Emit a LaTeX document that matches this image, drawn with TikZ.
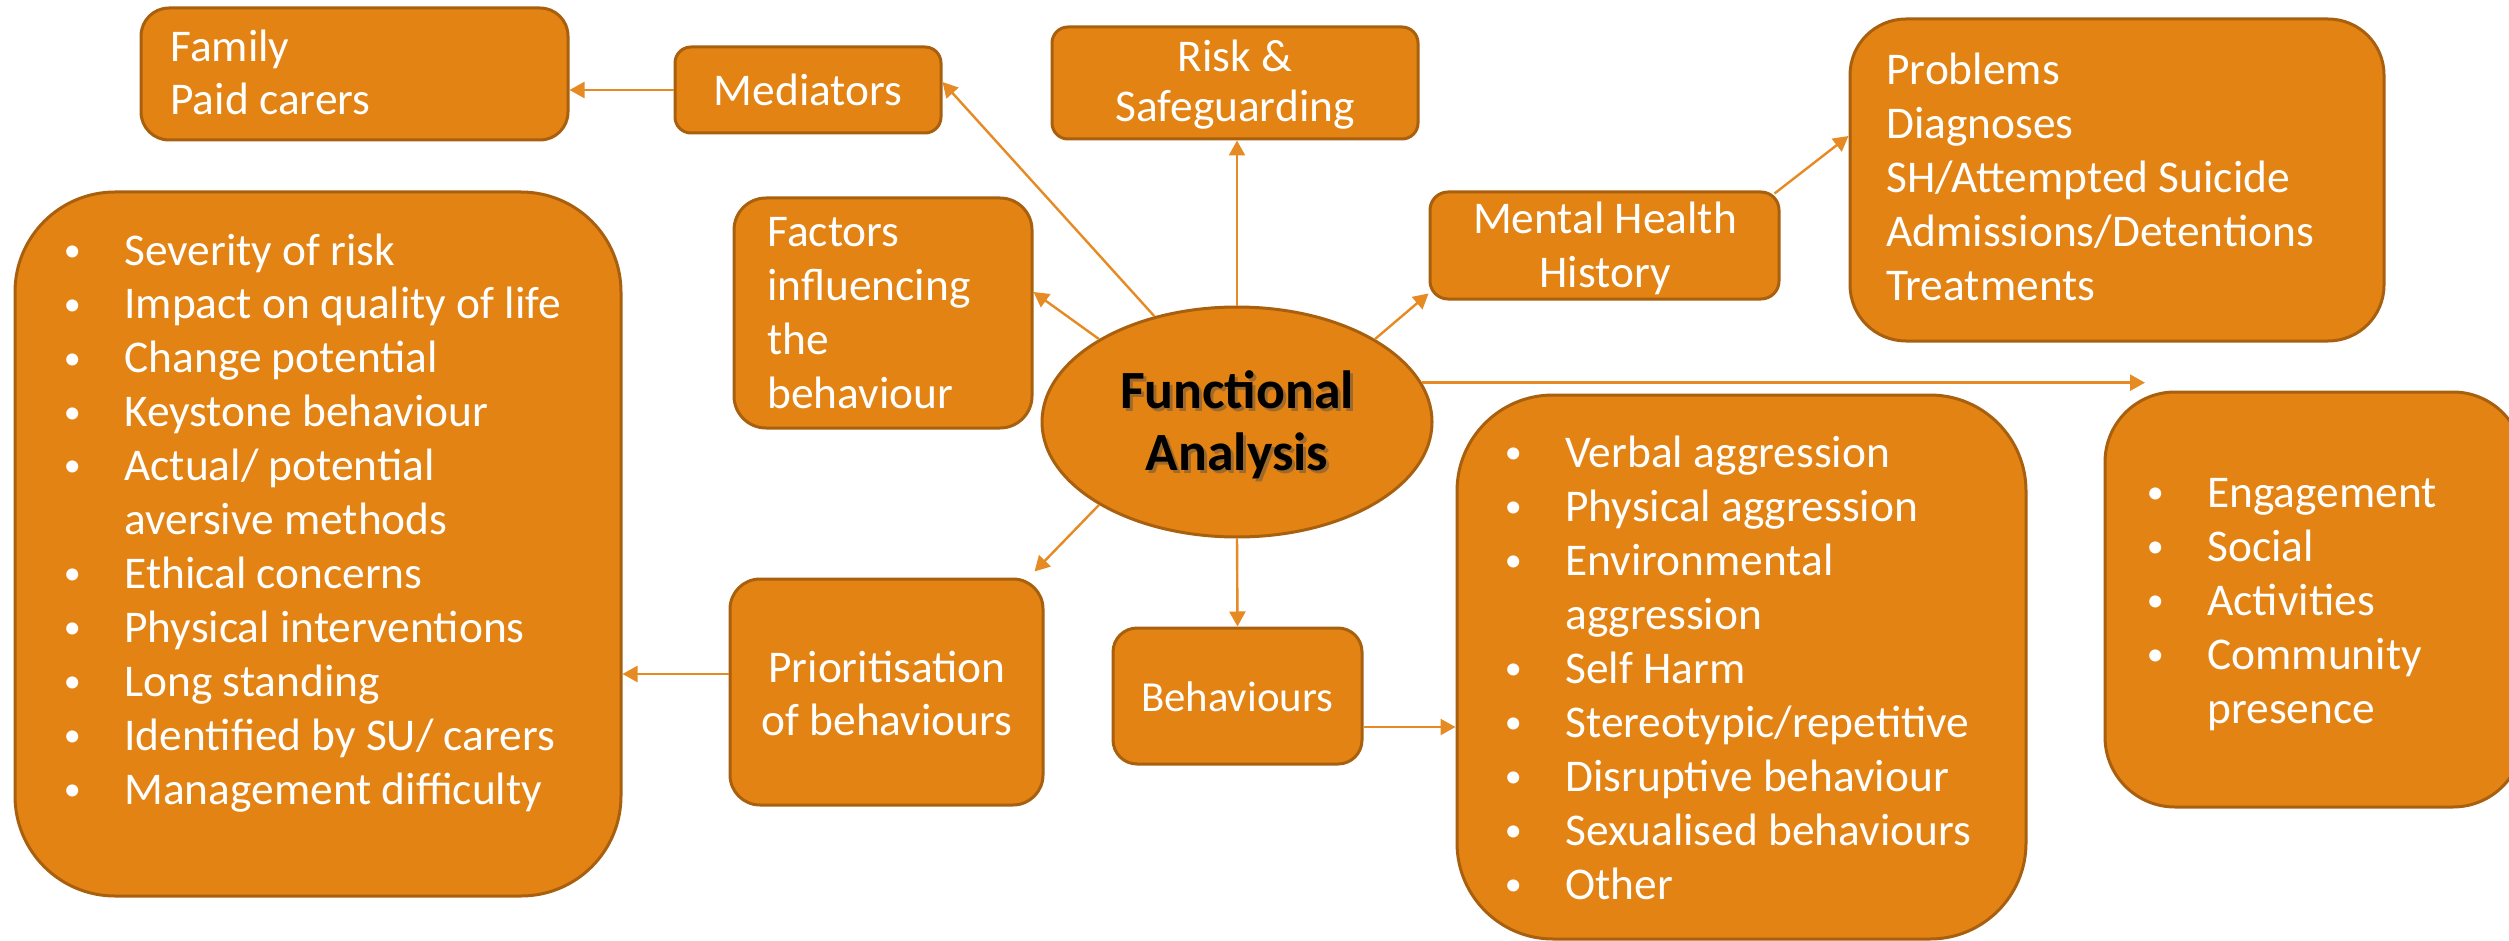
\documentclass[tikz,border=0pt]{standalone}
\usepackage{fontspec}
\setmainfont{Carlito}
\usetikzlibrary{arrows.meta,shapes.geometric}

\definecolor{boxfill}{HTML}{E38313}
\definecolor{boxline}{HTML}{A8600F}
\definecolor{linkc}{HTML}{E68A23}

% left / centred line stacks whose baseline is the first line
\newcommand\lstack[2]{\vtop{\baselineskip=#1\lineskip=0pt\lineskiplimit=-100pt\halign{##\hfil\cr#2\crcr}}}
\newcommand\cstack[2]{\vtop{\baselineskip=#1\lineskip=0pt\lineskiplimit=-100pt\halign{\hfil##\hfil\cr#2\crcr}}}
% small hanging bullet, centred 26pt left of the item text
\newcommand\bul{\llap{\makebox[0pt][c]{\raisebox{0.08em}{\scalebox{0.75}{•}}}\hspace{26pt}}}

\begin{document}
\begin{tikzpicture}[x=0.5pt,y=-0.5pt,
  box/.style={draw=boxline, line width=1.5pt, fill=boxfill, rectangle, inner sep=0pt},
  txt/.style={text=white, inner sep=0pt, font=\fontsize{22.7pt}{27pt}\selectfont},
  link/.style={draw=linkc, line width=1.2pt, -{Triangle[length=7.5pt,width=8pt]}}]
\useasboundingbox (0,0) rectangle (2509,941);

% ---- boxes ----
\node[box, rounded corners=14pt, minimum width=213.5pt, minimum height=66pt] (fam) at (354.5,74) {};
\node[box, rounded corners=8pt, minimum width=133pt, minimum height=43pt] (med) at (808,90) {};
\node[box, rounded corners=8pt, minimum width=183pt, minimum height=56pt] (risk) at (1235,83) {};
\node[box, rounded corners=9pt, minimum width=174.5pt, minimum height=53.5pt] (mh) at (1604.5,245.5) {};
\node[box, rounded corners=28pt, minimum width=267pt, minimum height=161pt] (prob) at (2117,180) {};
\node[box, rounded corners=16pt, minimum width=149pt, minimum height=115pt] (fac) at (883,313) {};
\node[box, ellipse, minimum width=195pt, minimum height=115pt] (fa) at (1237,422) {};
\node[box, rounded corners=50pt, minimum width=303pt, minimum height=352pt] (prio) at (318,544) {};
\node[box, rounded corners=15pt, minimum width=156.5pt, minimum height=113pt] (pri) at (886.5,692) {};
\node[box, rounded corners=12pt, minimum width=124.5pt, minimum height=68pt] (beh) at (1237.5,696) {};
\node[box, rounded corners=48pt, minimum width=284.5pt, minimum height=272pt] (blist) at (1741.5,667) {};
\node[box, rounded corners=35pt, minimum width=209pt, minimum height=207.5pt] (qol) at (2314,599.5) {};

% ---- texts ----
\node[txt, anchor=base west] (famt) at (170,62) {\lstack{26.5pt}{Family\cr Paid carers}};
\node[txt, anchor=base] (medt) at (808,106) {Mediators};
\node[txt, anchor=base] (riskt) at (1235,72) {\cstack{25pt}{Risk \&\cr Safeguarding}};
\node[txt, anchor=base] (mht) at (1605,234) {\cstack{27pt}{Mental Health\cr History}};
\node[txt, anchor=base west] (probt) at (1886,85) {\lstack{27pt}{Problems\cr Diagnoses\cr SH/Attempted Suicide\cr Admissions/Detentions\cr Treatments}};
\node[txt, anchor=base west] (fact) at (767,247) {\lstack{27pt}{Factors\cr influencing\cr the\cr behaviour}};
\node[inner sep=0pt, anchor=base, text=black!70, opacity=0.45, font=\bfseries\fontsize{26.9pt}{31pt}\selectfont] (fash) at (1240,411) {\cstack{31pt}{Functional\cr Analysis}};
\node[inner sep=0pt, anchor=base, text=black, font=\bfseries\fontsize{26.9pt}{31pt}\selectfont] (fat) at (1237,408) {\cstack{31pt}{Functional\cr Analysis}};
\node[txt, anchor=base west] (priot) at (124,265) {\lstack{26.95pt}{%
  \bul Severity of risk\cr
  \bul Impact on quality of life\cr
  \bul Change potential\cr
  \bul Keystone behaviour\cr
  \bul Actual/ potential\cr
  aversive methods\cr
  \bul Ethical concerns\cr
  \bul Physical interventions\cr
  \bul Long standing\cr
  \bul Identified by SU/ carers\cr
  \bul Management difficulty}};
\node[txt, anchor=base] (prit) at (887,682) {\cstack{26.5pt}{Prioritisation\cr of behaviours}};
\node[txt, anchor=base, font=\fontsize{21.4pt}{25pt}\selectfont] (beht) at (1237,711) {Behaviours};
\node[txt, anchor=base west] (blistt) at (1565,467) {\lstack{27pt}{%
  \bul Verbal aggression\cr
  \bul Physical aggression\cr
  \bul Environmental\cr
  aggression\cr
  \bul Self Harm\cr
  \bul Stereotypic/repetitive\cr
  \bul Disruptive behaviour\cr
  \bul Sexualised behaviours\cr
  \bul Other}};
\node[txt, anchor=base west] (qolt) at (2207,507) {\lstack{27pt}{%
  \bul Engagement\cr
  \bul Social\cr
  \bul Activities\cr
  \bul Community\cr
  presence}};

% ---- connectors ----
\draw[link] (med.west) -- (med.west -| fam.east);
\draw[link] (fa.128) -- ([yshift=4pt]med.east);
\draw[link] (fa.north) -- (fa.north |- risk.south);
\draw[link] (fa.31) -- ([yshift=3.5pt]mh.south west);
\draw[link] ([shift={(-3pt,-1.5pt)}]mh.north east) -- ([yshift=22pt]prob.west);
\draw[link] (fa.149) -- ([yshift=10.5pt]fac.east);
\coordinate (qtip) at (2145,386);
\draw[link] (fa.12) -- (fa.12 -| qtip);
\draw[link] (fa.211) -- ([shift={(-5pt,3pt)}]pri.north east);
\draw[link] (fa.south) -- (beh.north);
\coordinate (bo) at ([yshift=-15.5pt]beh.east);
\draw[link] (bo) -- (bo -| blist.west);
\coordinate (po) at ([yshift=9pt]pri.west);
\draw[link] (po) -- (po -| prio.east);
\end{tikzpicture}
\end{document}
